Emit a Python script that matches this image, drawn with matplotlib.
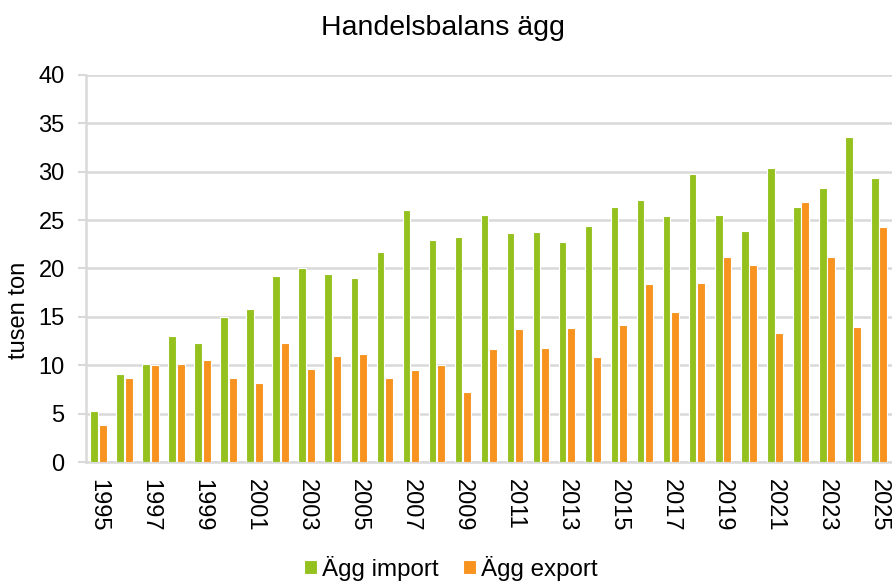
import numpy as np
import matplotlib
matplotlib.use('Agg')
import matplotlib.pyplot as plt

plt.rcParams['font.family'] = ['Liberation Sans', 'DejaVu Sans']

years = list(range(1995, 2026))
import_vals = [5.3, 9.1, 10.1, 13.0, 12.3, 15.0, 15.8, 19.2, 20.0, 19.4,
               19.0, 21.7, 26.0, 22.9, 23.3, 25.5, 23.7, 23.8, 22.7, 24.4,
               26.4, 27.1, 25.4, 29.8, 25.5, 23.9, 30.4, 26.4, 28.3, 33.6, 29.3]
export_vals = [3.8, 8.7, 10.0, 10.1, 10.5, 8.7, 8.2, 12.3, 9.6, 11.0,
               11.2, 8.7, 9.5, 10.0, 7.2, 11.7, 13.7, 11.8, 13.9, 10.9,
               14.2, 18.4, 15.5, 18.5, 21.2, 20.4, 13.3, 26.9, 21.2, 14.0, 24.3]
tick_years = [str(y) for y in years[::2]]

green = '#95c11f'
orange = '#f7931e'
grid_col = '#d9d9d9'

fig = plt.figure(figsize=(8.92, 5.81), dpi=100)
ax = fig.add_axes([0.0959, 0.2048, 0.9041, 0.6662])

x = np.arange(len(years))
w = 0.3
ax.bar(x - 0.165, import_vals, w, color=green, edgecolor='white', linewidth=0.8,
       label='Ägg import', zorder=3)
ax.bar(x + 0.165, export_vals, w, color=orange, edgecolor='white', linewidth=0.8,
       label='Ägg export', zorder=3)

ax.set_xlim(-0.5, len(years) - 0.5)
ax.set_ylim(0, 40)
ax.set_yticks(range(0, 41, 5))
ax.yaxis.grid(True, color=grid_col, linewidth=1.8, zorder=0)
ax.set_axisbelow(True)

ax.set_xticks(x[::2])
ax.set_xticklabels(tick_years, rotation=-90, fontsize=17)
ax.tick_params(axis='x', length=0, pad=12)
ax.tick_params(axis='y', labelsize=17, length=6, width=1.5, color=grid_col, pad=9)

for side in ['top', 'right']:
    ax.spines[side].set_visible(False)
for side in ['left', 'bottom']:
    ax.spines[side].set_color(grid_col)
    ax.spines[side].set_linewidth(1.8)

fig.text(0.021, 0.465, 'tusen ton', rotation=90, ha='center', va='center', fontsize=17)
fig.text(0.497, 0.952, 'Handelsbalans ägg', ha='center', va='center', fontsize=20.5)

fig.legend(loc='center', bbox_to_anchor=(0.505, 0.022), ncol=2, frameon=False,
           fontsize=17.4, handlelength=0.55, handleheight=0.55, handletextpad=0.2,
           columnspacing=1.0)

fig.savefig('out.png', dpi=100)
